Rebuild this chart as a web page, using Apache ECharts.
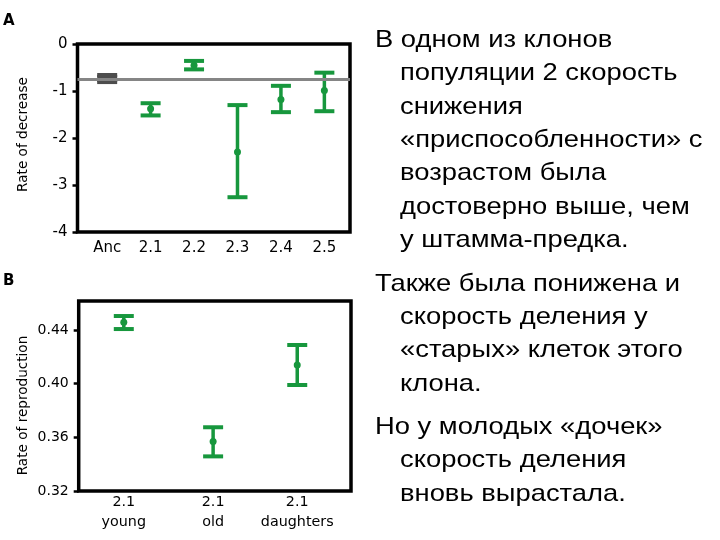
<!DOCTYPE html>
<html><head><meta charset="utf-8">
<script src="https://cdn.jsdelivr.net/npm/echarts@6.0.0/dist/echarts.min.js"></script>
<style>html,body{margin:0;padding:0;background:#fff;}#c{width:720px;height:540px;}</style>
</head><body><div id="c"></div>
<script>
// ---- Panel A: rate of decrease ----
const catsA = ['Anc', '2.1', '2.2', '2.3', '2.4', '2.5'];
const posA = [1, 2, 3, 4, 5, 6];
const meanA = [-0.735, -1.38, -0.45, -2.30, -1.18, -0.99];
const lowA = [-0.81, -1.52, -0.54, -3.26, -1.45, -1.43];
const highA = [-0.66, -1.26, -0.36, -1.30, -0.89, -0.61];
const ancLevel = -0.75;
const yTicksA = [0, -1, -2, -3, -4];
// ---- Panel B: rate of reproduction ----
const catsB = ['2.1\nyoung', '2.1\nold', '2.1\ndaughters'];
const posB = [1, 2.03, 3];
const meanB = [0.4457, 0.3568, 0.4139];
const lowB = [0.4407, 0.3458, 0.3990];
const highB = [0.4504, 0.3675, 0.4288];
const yTicksB = [0.32, 0.36, 0.40, 0.44];
// ---- Right-hand text ----
const para1 = ['В одном из клонов', 'популяции 2 скорость', 'снижения', '«приспособленности» с', 'возрастом была', 'достоверно выше, чем', 'у штамма-предка.'];
const para2 = ['Также была понижена и', 'скорость деления у', '«старых» клеток этого', 'клона.'];
const para3 = ['Но у молодых «дочек»', 'скорость деления', 'вновь вырастала.'];

const GREEN = '#17973d';
const GRAY = '#4d4d4d';
const LBL = '"DejaVu Sans", Verdana, sans-serif';

function errRender(color, capHalf, vWidth, r) {
  return function (params, api) {
    const x = api.value(0);
    const lo = api.coord([x, api.value(1)]);
    const hi = api.coord([x, api.value(2)]);
    const m = api.coord([x, api.value(3)]);
    const ch = [
      { type: 'line', shape: { x1: lo[0], y1: lo[1], x2: hi[0], y2: hi[1] }, style: { stroke: color, lineWidth: vWidth } },
      { type: 'line', shape: { x1: lo[0] - capHalf, y1: lo[1], x2: lo[0] + capHalf, y2: lo[1] }, style: { stroke: color, lineWidth: 4 } },
      { type: 'line', shape: { x1: hi[0] - capHalf, y1: hi[1], x2: hi[0] + capHalf, y2: hi[1] }, style: { stroke: color, lineWidth: 4 } }
    ];
    if (r > 0) ch.push({ type: 'circle', shape: { cx: m[0], cy: m[1], r: r }, style: { fill: color } });
    return { type: 'group', children: ch };
  };
}

function rows(pos, low, high, mean, idx) {
  return idx.map(i => [pos[i], low[i], high[i], mean[i]]);
}

const textEls = [];
function addPara(lines, baseline0, step) {
  lines.forEach((t, i) => {
    textEls.push({
      type: 'text',
      x: i === 0 ? 375 : 400,
      y: baseline0 + i * step - 7.5,
      scaleX: 1.14,
      style: { text: t, font: '24px "Liberation Sans", Arial, sans-serif', fill: '#000', verticalAlign: 'middle', align: 'left' }
    });
  });
}
addPara(para1, 48, 33.3);
addPara(para2, 291.7, 33.3);
addPara(para3, 435, 33.3);

const lbl = size => ({ fontFamily: LBL, fontSize: size, color: '#000' });

const option = {
  animation: false,
  backgroundColor: '#fff',
  grid: [
    { left: 77.5, top: 44, width: 272.5, height: 188, show: true, borderColor: '#000', borderWidth: 3.5, backgroundColor: 'transparent' },
    { left: 78.7, top: 301, width: 272.3, height: 190, show: true, borderColor: '#000', borderWidth: 3.5, backgroundColor: 'transparent' }
  ],
  xAxis: [
    {
      gridIndex: 0, type: 'value', min: 0.317, max: 6.59,
      axisLine: { show: false }, axisTick: { show: false }, splitLine: { show: false },
      axisLabel: Object.assign({ customValues: posA, margin: 9, formatter: v => catsA[posA.indexOf(v)] || '' }, lbl(15))
    },
    {
      gridIndex: 1, type: 'value', min: 0.48, max: 3.62,
      axisLine: { show: false }, axisTick: { show: false }, splitLine: { show: false },
      axisLabel: Object.assign({ customValues: posB, margin: 1, lineHeight: 20, formatter: v => catsB[posB.indexOf(v)] || '' }, lbl(14.3))
    }
  ],
  yAxis: [
    {
      gridIndex: 0, type: 'value', min: -4, max: 0, interval: 1,
      axisLine: { show: false }, splitLine: { show: false },
      axisTick: { show: true, inside: false, length: 5, customValues: yTicksA, lineStyle: { color: '#000', width: 2.5 } },
      axisLabel: Object.assign({ customValues: yTicksA, margin: 10 }, lbl(15))
    },
    {
      gridIndex: 1, type: 'value', min: 0.32, max: 0.4616, interval: 0.04,
      axisLine: { show: false }, splitLine: { show: false },
      axisTick: { show: true, inside: false, length: 5, customValues: yTicksB, lineStyle: { color: '#000', width: 2.5 } },
      axisLabel: Object.assign({ customValues: yTicksB, margin: 10, formatter: v => v.toFixed(2) }, lbl(14))
    }
  ],
  series: [
    { type: 'custom', xAxisIndex: 0, yAxisIndex: 0, z: 2, renderItem: errRender(GRAY, 10, 20, 0), data: rows(posA, lowA, highA, meanA, [0]) },
    { type: 'custom', xAxisIndex: 0, yAxisIndex: 0, z: 2, renderItem: errRender(GREEN, 10, 3.5, 3.5), data: rows(posA, lowA, highA, meanA, [1, 2, 3, 4, 5]) },
    {
      type: 'line', xAxisIndex: 0, yAxisIndex: 0, z: 5, data: [], silent: true,
      markLine: { silent: true, symbol: 'none', label: { show: false }, lineStyle: { color: '#858585', width: 3, type: 'solid' }, data: [{ yAxis: ancLevel }] }
    },
    { type: 'custom', xAxisIndex: 1, yAxisIndex: 1, z: 2, renderItem: errRender(GREEN, 10, 3.5, 3.5), data: rows(posB, lowB, highB, meanB, [0, 1, 2]) }
  ],
  graphic: [
    { type: 'text', x: 3, y: 21, style: { text: 'A', font: 'bold 15px "DejaVu Sans", sans-serif', fill: '#000', verticalAlign: 'middle' } },
    { type: 'text', x: 3, y: 281, style: { text: 'B', font: 'bold 15px "DejaVu Sans", sans-serif', fill: '#000', verticalAlign: 'middle' } },
    { type: 'text', x: 23.5, y: 134.5, rotation: Math.PI / 2, style: { text: 'Rate of decrease', font: '13.6px "DejaVu Sans", Verdana, sans-serif', fill: '#000', align: 'center', verticalAlign: 'middle' } },
    { type: 'text', x: 23, y: 405.5, rotation: Math.PI / 2, style: { text: 'Rate of reproduction', font: '13.6px "DejaVu Sans", Verdana, sans-serif', fill: '#000', align: 'center', verticalAlign: 'middle' } }
  ].concat(textEls)
};

const chart = echarts.init(document.getElementById('c'), null, { renderer: 'canvas' });
chart.setOption(option);
</script>
</body></html>
